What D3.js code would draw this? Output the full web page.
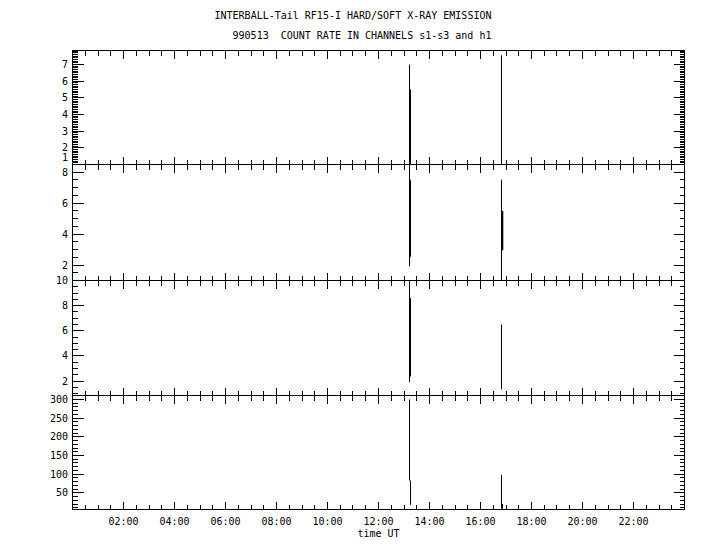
<!DOCTYPE html>
<html><head><meta charset="utf-8">
<script src="https://cdn.jsdelivr.net/npm/d3@7"></script>
<style>body{margin:0;background:#fff}svg{display:block}text{white-space:pre}</style>
</head><body>
<svg id="c" width="720" height="550"></svg>
<script>
// ---- data ----
const titleLines = ["INTERBALL-Tail RF15-I HARD/SOFT X-RAY EMISSION", "990513  COUNT RATE IN CHANNELS s1-s3 and h1"];
const xLabel = "time UT";
const channels = ["s1", "s2", "s3", "h1"];
const hourTicks = [2, 4, 6, 8, 10, 12, 14, 16, 18, 20, 22];
const hourTickLabels = ["02:00","04:00","06:00","08:00","10:00","12:00","14:00","16:00","18:00","20:00","22:00"];
const yDomains = [[1, 7.84], [1, 8.5], [0.86, 10], [5.3, 310.7]];
const yMajorSteps = [1, 2, 2, 50];
const yMinorSteps = [0.1, 0.5, 0.5, 10];
// envelope segments per channel: [hour UT, low count rate, high count rate]
const s1Peak = [[13.216, 0, 7.0], [16.824, 0, 7.55]];
const s1Core = [[13.235, 0, 5.5]];
const s2Peak = [[13.216, 1.92, 9.0], [16.824, 0, 7.52]];
const s2Core = [[13.235, 2.53, 7.52], [16.855, 2.96, 5.5]];
const s3Peak = [[13.216, 1.93, 10.5], [16.824, 1.34, 6.5]];
const s3Core = [[13.235, 2.38, 8.6]];
const h1Peak = [[13.216, 83, 300], [13.255, 18, 83], [16.824, 8, 98], [16.863, 5.3, 20]];
const h1Core = [];

// ---- layout ----
const peaks = [s1Peak, s2Peak, s3Peak, h1Peak];
const cores = [s1Core, s2Core, s3Core, h1Core];
const edges = [50, 164, 280, 395, 509];
const left = 72.5, right = 684.5;
const font = "'DejaVu Sans Mono', monospace";

const svg = d3.select("#c");
svg.append("rect").attr("width", 720).attr("height", 550).attr("fill", "#fff");

const x = d3.scaleLinear().domain([0, 24]).range([left, right]);

function stepTicks(lo, hi, step) {
  const out = [];
  for (let k = Math.ceil(lo / step - 1e-9); k <= Math.floor(hi / step + 1e-9); k++) out.push(+(k * step).toFixed(6));
  return out;
}

titleLines.forEach((t, i) => {
  svg.append("text").attr("x", i === 0 ? 353 : 362).attr("y", i === 0 ? 19 : 39)
    .attr("xml:space", "preserve")
    .attr("text-anchor", "middle").attr("font-family", font).attr("font-size", 10).attr("fill", "#000").text(t);
});

const hourMinor = stepTicks(0, 24, 0.5);

channels.forEach((ch, i) => {
  const top = edges[i] + 0.5, bot = edges[i + 1] + 0.5;
  const y = d3.scaleLinear().domain(yDomains[i]).range([bot, top]);
  const g = svg.append("g");
  const clipId = "clip" + i;
  svg.append("clipPath").attr("id", clipId).append("rect")
    .attr("x", left).attr("y", top).attr("width", right - left).attr("height", bot - top);

  // data marks
  const marks = g.append("g").attr("clip-path", `url(#${clipId})`);
  marks.selectAll("line.peak").data(peaks[i]).join("line").attr("class", "peak")
    .attr("x1", d => x(d[0])).attr("x2", d => x(d[0]))
    .attr("y1", d => y(d[1])).attr("y2", d => y(d[2]))
    .attr("stroke", "#000").attr("stroke-width", 1);
  marks.selectAll("line.core").data(cores[i]).join("line").attr("class", "core")
    .attr("x1", d => x(d[0])).attr("x2", d => x(d[0]))
    .attr("y1", d => y(d[1])).attr("y2", d => y(d[2]))
    .attr("stroke", "#000").attr("stroke-width", 2);

  // frame
  g.append("rect").attr("x", left).attr("y", top).attr("width", right - left).attr("height", bot - top)
    .attr("fill", "none").attr("stroke", "#000").attr("stroke-width", 1).attr("shape-rendering", "crispEdges");

  // x ticks (top and bottom, inward)
  const tk = g.append("g").attr("stroke", "#000").attr("stroke-width", 1).attr("shape-rendering", "crispEdges");
  hourMinor.forEach(h => {
    const major = Math.abs(h / 2 - Math.round(h / 2)) < 1e-6;
    const len = major ? 8 : 5;
    const xx = Math.round(x(h) - 0.5) + 0.5;
    tk.append("line").attr("x1", xx).attr("x2", xx).attr("y1", top).attr("y2", top + len);
    tk.append("line").attr("x1", xx).attr("x2", xx).attr("y1", bot).attr("y2", bot - len);
  });

  // y ticks (left and right, inward)
  const [lo, hi] = yDomains[i];
  stepTicks(lo, hi, yMinorSteps[i]).forEach(v => {
    const r = v / yMajorSteps[i];
    const major = Math.abs(r - Math.round(r)) < 1e-6;
    const yy = Math.round(y(v) - 0.5) + 0.5;
    tk.append("line").attr("x1", left).attr("x2", left + (major ? 11 : 5)).attr("y1", yy).attr("y2", yy);
    tk.append("line").attr("x1", right).attr("x2", right - (major ? 11 : 5)).attr("y1", yy).attr("y2", yy);
  });

  // y labels
  stepTicks(lo, hi, yMajorSteps[i]).forEach(v => {
    let yy = y(v);
    if (bot - yy < 3) yy -= 7;
    svg.append("text").attr("x", 68).attr("y", yy).attr("dy", "0.35em")
      .attr("text-anchor", "end").attr("font-family", font).attr("font-size", 10).attr("fill", "#000").text(String(v));
  });
});

// x tick labels
hourTicks.forEach((h, k) => {
  svg.append("text").attr("x", x(h)).attr("y", 525).attr("text-anchor", "middle")
    .attr("font-family", font).attr("font-size", 10).attr("fill", "#000").text(hourTickLabels[k]);
});
svg.append("text").attr("x", x(12)).attr("y", 537).attr("text-anchor", "middle")
  .attr("font-family", font).attr("font-size", 10).attr("fill", "#000").text(xLabel);
</script>
</body></html>
